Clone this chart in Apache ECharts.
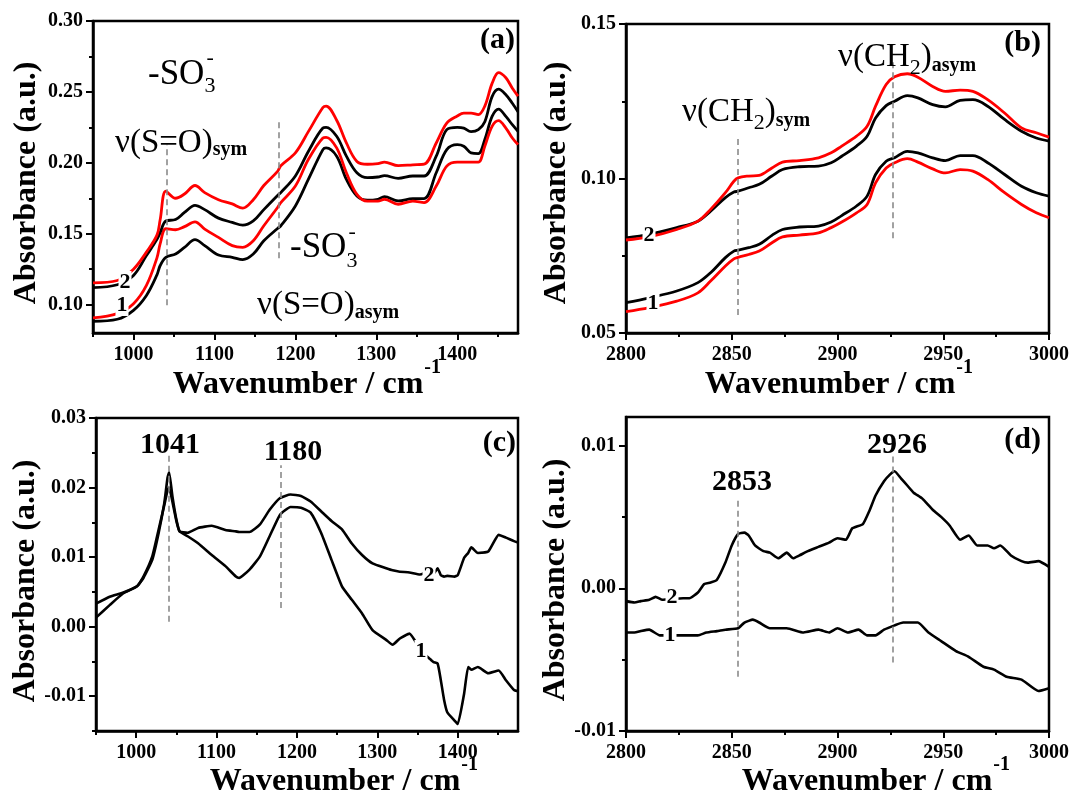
<!DOCTYPE html>
<html>
<head>
<meta charset="utf-8">
<script src="https://cdn.jsdelivr.net/npm/echarts@6/dist/echarts.min.js"></script>
<style>
  html, body { margin: 0; padding: 0; background: #fff; }
  #chart { width: 1073px; height: 797px; }
</style>
</head>
<body>
<div id="chart"></div>
<script>
// ---------- Panel (a): 950-1475 cm-1, samples 1 and 2 (black / red) ----------
const aWave   = [950, 980, 1000, 1016, 1029, 1033, 1040, 1052, 1063, 1076, 1088, 1105, 1122, 1135, 1148, 1161, 1178, 1182, 1200, 1216, 1234, 1238, 1251, 1263, 1276, 1289, 1302, 1310, 1327, 1345, 1359, 1374, 1387, 1400, 1408, 1417, 1426, 1434, 1443, 1451, 1460, 1468, 1475];
const aRed2   = [0.1154, 0.117, 0.125, 0.137, 0.149, 0.160, 0.180, 0.175, 0.178, 0.184, 0.179, 0.174, 0.171, 0.168, 0.174, 0.184, 0.194, 0.198, 0.207, 0.222, 0.239, 0.240, 0.230, 0.214, 0.201, 0.199, 0.1995, 0.2005, 0.198, 0.1986, 0.199, 0.214, 0.228, 0.233, 0.235, 0.235, 0.234, 0.240, 0.256, 0.2636, 0.260, 0.2526, 0.247];
const aBlack2 = [0.112, 0.114, 0.1206, 0.1346, 0.146, 0.151, 0.159, 0.160, 0.165, 0.170, 0.167, 0.161, 0.158, 0.156, 0.159, 0.167, 0.177, 0.179, 0.1907, 0.208, 0.2245, 0.225, 0.2187, 0.2047, 0.193, 0.1895, 0.190, 0.191, 0.189, 0.1907, 0.1907, 0.2047, 0.2234, 0.225, 0.2245, 0.222, 0.2234, 0.229, 0.2467, 0.2519, 0.248, 0.242, 0.236];
const aRed1   = [0.0907, 0.0937, 0.1007, 0.1136, 0.133, 0.143, 0.1535, 0.1528, 0.155, 0.1584, 0.1533, 0.1474, 0.1416, 0.1404, 0.145, 0.1556, 0.1685, 0.172, 0.1836, 0.2023, 0.2175, 0.218, 0.2105, 0.193, 0.1778, 0.173, 0.173, 0.1743, 0.1708, 0.173, 0.172, 0.1836, 0.1977, 0.2005, 0.2005, 0.2005, 0.2005, 0.2117, 0.2257, 0.2297, 0.2245, 0.2175, 0.2128];
const aBlack1 = [0.0883, 0.0897, 0.096, 0.1065, 0.121, 0.1276, 0.1334, 0.1357, 0.1404, 0.1458, 0.1416, 0.135, 0.1334, 0.1318, 0.1357, 0.145, 0.1537, 0.1556, 0.1696, 0.1883, 0.2093, 0.2105, 0.2047, 0.1883, 0.1766, 0.1736, 0.1743, 0.1762, 0.1731, 0.1748, 0.1748, 0.193, 0.2093, 0.2128, 0.2117, 0.207, 0.2065, 0.2164, 0.2327, 0.2379, 0.2327, 0.2269, 0.2222];

// ---------- Panel (b): 2800-3000 cm-1 ----------
const bWave   = [2800, 2811, 2824, 2834, 2840, 2847, 2851, 2853, 2858, 2863, 2869, 2874, 2882, 2891, 2897, 2902, 2909, 2914, 2918, 2923, 2927, 2933, 2938, 2945, 2951, 2958, 2964, 2971, 2979, 2987, 2994, 3000];
const bRed2   = [0.0801, 0.0811, 0.0835, 0.0862, 0.090, 0.0954, 0.0991, 0.1002, 0.1008, 0.101, 0.1034, 0.1053, 0.1058, 0.1067, 0.1083, 0.1105, 0.1137, 0.1169, 0.1234, 0.1304, 0.1329, 0.1339, 0.1328, 0.1298, 0.1282, 0.1286, 0.1282, 0.1255, 0.1212, 0.1164, 0.1148, 0.1134];
const bBlack2 = [0.0808, 0.0819, 0.0841, 0.0862, 0.0894, 0.0938, 0.0956, 0.0959, 0.097, 0.0981, 0.1008, 0.1029, 0.1038, 0.104, 0.1051, 0.1072, 0.1105, 0.1137, 0.1196, 0.1236, 0.125, 0.1268, 0.1261, 0.1239, 0.1232, 0.1253, 0.1255, 0.1234, 0.1191, 0.1153, 0.1131, 0.1121];
const bBlack1 = [0.0598, 0.0614, 0.0636, 0.0663, 0.0695, 0.0744, 0.0765, 0.0768, 0.0776, 0.0787, 0.0816, 0.0835, 0.0843, 0.0846, 0.0859, 0.088, 0.0911, 0.0943, 0.1013, 0.1056, 0.1067, 0.1088, 0.1083, 0.1067, 0.1058, 0.1074, 0.1074, 0.1051, 0.1013, 0.0975, 0.0954, 0.0943];
const bRed1   = [0.0569, 0.0582, 0.0603, 0.063, 0.0668, 0.0717, 0.074, 0.0745, 0.0754, 0.0765, 0.0792, 0.0811, 0.0817, 0.0824, 0.0841, 0.0859, 0.0889, 0.0916, 0.0986, 0.1034, 0.1051, 0.1064, 0.1053, 0.1031, 0.1018, 0.1029, 0.1024, 0.0997, 0.0954, 0.0916, 0.0889, 0.0873];

// ---------- Panel (c): difference spectra, 950-1475 cm-1 ----------
const cWave   = [950, 967, 984, 1001, 1009, 1020, 1028, 1035, 1039, 1041, 1045, 1050, 1054, 1064, 1077, 1094, 1111, 1124, 1128, 1141, 1154, 1166, 1179, 1192, 1205, 1217, 1230, 1243, 1256, 1268, 1281, 1294, 1311, 1319, 1328, 1340, 1353, 1358, 1366, 1370, 1375, 1379, 1383, 1387, 1396, 1400, 1408, 1413, 1417, 1425, 1438, 1451, 1460, 1470, 1475];
const cCurve2 = [0.0033, 0.0043, 0.0049, 0.0058, 0.0072, 0.0101, 0.014, 0.0175, 0.0196, 0.0200, 0.018, 0.0152, 0.0137, 0.0135, 0.0142, 0.0145, 0.0139, 0.0137, 0.0136, 0.0136, 0.0147, 0.0168, 0.0185, 0.019, 0.0188, 0.018, 0.0166, 0.0152, 0.014, 0.012, 0.0103, 0.0091, 0.0084, 0.0081, 0.0079, 0.0078, 0.0075, 0.0077, 0.0082, 0.0076, 0.0084, 0.0074, 0.0072, 0.0073, 0.0072, 0.0074, 0.0099, 0.0106, 0.0114, 0.0106, 0.0108, 0.0132, 0.0128, 0.0123, 0.0121];
const cCurve1 = [0.0013, 0.0031, 0.0048, 0.0058, 0.007, 0.0096, 0.0135, 0.0178, 0.0214, 0.0222, 0.0188, 0.0154, 0.0137, 0.013, 0.012, 0.0103, 0.0087, 0.0072, 0.007, 0.0082, 0.0101, 0.013, 0.0161, 0.0172, 0.0171, 0.0164, 0.0135, 0.0096, 0.0058, 0.0039, 0.0019, -0.0005, -0.0019, -0.0026, -0.0017, -0.001, -0.0032, -0.0039, -0.0047, -0.0051, -0.0053, -0.0077, -0.0105, -0.0123, -0.0135, -0.014, -0.0096, -0.0058, -0.0062, -0.0058, -0.0067, -0.0063, -0.0077, -0.0091, -0.0093];

// ---------- Panel (d): difference spectra, 2800-3000 cm-1 ----------
const dWave2  = [2800, 2804, 2807, 2811, 2814, 2817, 2827, 2830, 2834, 2837, 2840, 2843, 2847, 2850, 2853, 2856, 2858, 2861, 2865, 2868, 2872, 2876, 2879, 2882, 2886, 2891, 2896, 2900, 2904, 2907, 2912, 2915, 2918, 2922, 2925, 2927, 2930, 2933, 2936, 2940, 2945, 2949, 2953, 2958, 2962, 2966, 2971, 2974, 2977, 2982, 2987, 2990, 2995, 3000];
const dCurve2 = [-0.0009, -0.001, -0.0009, -0.0008, -0.0006, -0.0008, -0.0007, -0.0007, -0.0003, 0.0003, 0.0004, 0.0006, 0.0018, 0.003, 0.0038, 0.0039, 0.0037, 0.003, 0.0026, 0.0025, 0.0021, 0.0025, 0.0021, 0.0023, 0.0026, 0.0029, 0.0032, 0.0035, 0.0034, 0.0042, 0.0045, 0.0054, 0.0065, 0.0075, 0.008, 0.0082, 0.0077, 0.0072, 0.0067, 0.0063, 0.0055, 0.005, 0.0044, 0.0034, 0.0037, 0.003, 0.003, 0.0028, 0.003, 0.0023, 0.0019, 0.0018, 0.0019, 0.0015];
const dWave1  = [2800, 2804, 2807, 2811, 2816, 2827, 2834, 2838, 2843, 2847, 2853, 2856, 2860, 2863, 2868, 2876, 2884, 2891, 2896, 2900, 2905, 2910, 2914, 2918, 2922, 2927, 2931, 2938, 2943, 2949, 2956, 2962, 2969, 2974, 2980, 2987, 2995, 3000];
const dCurve1 = [-0.0031, -0.0031, -0.003, -0.0029, -0.0033, -0.0033, -0.0033, -0.0031, -0.003, -0.0029, -0.0028, -0.0024, -0.0022, -0.0024, -0.0028, -0.0028, -0.0031, -0.0029, -0.0031, -0.0028, -0.0031, -0.0029, -0.0033, -0.0033, -0.0029, -0.0026, -0.0024, -0.0024, -0.0031, -0.0037, -0.0044, -0.0048, -0.0055, -0.0057, -0.0062, -0.0064, -0.0072, -0.007];

// Marked band positions (cm-1)
const lowPeaks  = [1041, 1180];
const highPeaks = [2853, 2926];

// Tick values
const lowXMajor  = [1000, 1100, 1200, 1300, 1400];
const lowXMinor  = [950, 1050, 1150, 1250, 1350, 1450];
const highXMajor = [2800, 2850, 2900, 2950, 3000];
const highXMinor = [2825, 2875, 2925, 2975];
const aYMajor = [0.10, 0.15, 0.20, 0.25, 0.30];
const aYMinor = [0.125, 0.175, 0.225, 0.275];
const bYMajor = [0.05, 0.10, 0.15];
const bYMinor = [0.075, 0.125];
const cYMajor = [-0.01, 0.00, 0.01, 0.02, 0.03];
const cYMinor = [-0.015, -0.005, 0.005, 0.015, 0.025];
const dYMajor = [-0.01, 0.00, 0.01];
const dYMinor = [-0.005, 0.005];

const SERIF = '"Liberation Serif", "Times New Roman", serif';
const RED = '#ff0000';
const BLACK = '#000000';

const chart = echarts.init(document.getElementById('chart'), null, { renderer: 'canvas' });

// text measuring, used to chain sub/superscript pieces
const measureCtx = document.createElement('canvas').getContext('2d');
function textWidth(t, size, weight) {
  measureCtx.font = `${weight} ${size}px ${SERIF}`;
  return measureCtx.measureText(t).width;
}

// ----- grids -----
const grids = [
  { left: 93,  top: 21,  width: 425, height: 312 },
  { left: 626, top: 24,  width: 423, height: 309 },
  { left: 96,  top: 418, width: 422, height: 313 },
  { left: 626, top: 417, width: 423, height: 314 }
].map(g => Object.assign({
  show: true, borderColor: BLACK, borderWidth: 2.5, backgroundColor: 'transparent', containLabel: false
}, g));

// each panel gets a labelled major axis and an unlabelled minor-tick axis per direction
function axisPair(dim, gridIndex, min, max, majors, minors, fmt) {
  const pos = dim === 'x' ? 'bottom' : 'left';
  const major = {
    type: 'value', gridIndex, min, max, position: pos,
    axisLine: { show: true, onZero: false, lineStyle: { color: BLACK, width: 2.5 } },
    axisTick: { show: true, inside: false, length: 7, customValues: majors, lineStyle: { color: BLACK, width: 2 } },
    axisLabel: {
      show: true, customValues: majors, formatter: fmt,
      margin: dim === 'x' ? 12 : 10,
      color: BLACK, fontFamily: SERIF, fontWeight: 'bold', fontSize: 20
    },
    splitLine: { show: false }
  };
  const minor = {
    type: 'value', gridIndex, min, max, position: pos,
    axisLine: { show: false, onZero: false },
    axisTick: { show: true, inside: false, length: 4, customValues: minors, lineStyle: { color: BLACK, width: 2 } },
    axisLabel: { show: false },
    splitLine: { show: false }
  };
  return [major, minor];
}

const xFmt = v => String(Math.round(v));
const yFmt = v => v.toFixed(2);

const xAxis = [
  ...axisPair('x', 0, 950, 1475, lowXMajor, lowXMinor, xFmt),
  ...axisPair('x', 1, 2800, 3000, highXMajor, highXMinor, xFmt),
  ...axisPair('x', 2, 950, 1475, lowXMajor, lowXMinor, xFmt),
  ...axisPair('x', 3, 2800, 3000, highXMajor, highXMinor, xFmt)
];
const yAxis = [
  ...axisPair('y', 0, 0.08, 0.30, aYMajor, aYMinor, yFmt),
  ...axisPair('y', 1, 0.05, 0.15, bYMajor, bYMinor, yFmt),
  ...axisPair('y', 2, -0.015, 0.03, cYMajor, cYMinor, yFmt),
  ...axisPair('y', 3, -0.01, 0.012, dYMajor, dYMinor, yFmt)
];

function zip(xs, ys) { return xs.map((x, i) => [x, ys[i]]); }

function guideLines(peaks, spans) {
  return {
    silent: true,
    symbol: ['none', 'none'],
    label: { show: false },
    lineStyle: { type: [6, 4], color: '#8a8a8a', width: 1.6 },
    data: peaks.map((p, i) => [{ coord: [p, spans[i][0]] }, { coord: [p, spans[i][1]] }])
  };
}

function line(panel, data, color, width, smooth, extra) {
  return Object.assign({
    type: 'line',
    xAxisIndex: panel * 2, yAxisIndex: panel * 2,
    data, showSymbol: false, symbol: 'none', smooth,
    lineStyle: { color, width }, itemStyle: { color },
    z: 3, animation: false
  }, extra || {});
}

const series = [
  line(0, zip(aWave, aBlack1), BLACK, 2.8, 0.35, { markLine: guideLines(lowPeaks, [[0.0995, 0.213], [0.1327, 0.2315]]) }),
  line(0, zip(aWave, aRed1), RED, 2.8, 0.35),
  line(0, zip(aWave, aBlack2), BLACK, 2.8, 0.35),
  line(0, zip(aWave, aRed2), RED, 2.8, 0.35),

  line(1, zip(bWave, bBlack2), BLACK, 2.8, 0.35, { markLine: guideLines(highPeaks, [[0.0558, 0.1131], [0.0807, 0.1378]]) }),
  line(1, zip(bWave, bRed2), RED, 2.8, 0.35),
  line(1, zip(bWave, bBlack1), BLACK, 2.8, 0.35),
  line(1, zip(bWave, bRed1), RED, 2.8, 0.35),

  line(2, zip(cWave, cCurve2), BLACK, 2.6, 0.15, { markLine: guideLines(lowPeaks, [[0.0007, 0.025], [0.0027, 0.0232]]) }),
  line(2, zip(cWave, cCurve1), BLACK, 2.6, 0.15),

  line(3, zip(dWave2, dCurve2), BLACK, 2.6, 0.15, { markLine: guideLines(highPeaks, [[-0.0062, 0.0063], [-0.0052, 0.0093]]) }),
  line(3, zip(dWave1, dCurve1), BLACK, 2.6, 0.15)
];

// ----- text -----
const graphic = [];
function addText(x, y, t, size, weight, align, extra) {
  graphic.push(Object.assign({
    type: 'text', x, y, z: 100, silent: true,
    style: {
      text: t, fill: BLACK, align: align || 'left', verticalAlign: 'middle',
      font: `${weight || 'normal'} ${size}px ${SERIF}`
    }
  }, extra || {}));
}
// a run of pieces laid out left to right; a piece with stack:true shares x with the next one
function addRun(x, y, parts) {
  let cx = x;
  parts.forEach(p => {
    addText(cx + (p.dx || 0), y + (p.dy || 0), p.t, p.size, p.weight, 'left');
    if (!p.stack) cx += textWidth(p.t, p.size, p.weight || 'normal');
  });
}
function addCurveTag(x, y, t) {
  graphic.push({
    type: 'text', x, y, z: 100, silent: true,
    style: {
      text: t, fill: BLACK, align: 'center', verticalAlign: 'middle',
      font: `bold 22px ${SERIF}`, backgroundColor: '#fff', padding: [0, 1]
    }
  });
}
function addAxisTitles(cx, cy, yx, yy) {
  const main = 'Wavenumber / cm';
  const w = textWidth(main, 32, 'bold');
  addText(cx, cy, main, 32, 'bold', 'center');
  addText(cx + w / 2 + 1, cy - 17, '-1', 20, 'bold', 'left');
  graphic.push({
    type: 'text', x: yx, y: yy, rotation: Math.PI / 2, z: 100, silent: true,
    style: { text: 'Absorbance (a.u.)', fill: BLACK, align: 'center', verticalAlign: 'middle', font: `bold 32px ${SERIF}` }
  });
}

// panel (a)
addRun(148, 75, [
  { t: '-SO', size: 35 },
  { t: '-', size: 22, dy: -17, stack: true, dx: 2 },
  { t: '3', size: 22, dy: 11 }
]);
addRun(115, 143, [{ t: 'ν(S=O)', size: 33 }, { t: 'sym', size: 20, weight: 'bold', dy: 7 }]);
addRun(290, 248, [
  { t: '-SO', size: 35 },
  { t: '-', size: 22, dy: -16, stack: true, dx: 2 },
  { t: '3', size: 22, dy: 13 }
]);
addRun(257, 305, [{ t: 'ν(S=O)', size: 33 }, { t: 'asym', size: 20, weight: 'bold', dy: 8 }]);
addText(515, 40, '(a)', 30, 'bold', 'right');
addCurveTag(125, 282, '2');
addCurveTag(122, 305, '1');
addAxisTitles(298, 385, 27, 183);

// panel (b)
addRun(682, 112, [
  { t: 'ν(CH', size: 33 }, { t: '2', size: 22, dy: 11 }, { t: ')', size: 33 },
  { t: 'sym', size: 20, weight: 'bold', dy: 9 }
]);
addRun(838, 57, [
  { t: 'ν(CH', size: 33 }, { t: '2', size: 22, dy: 11 }, { t: ')', size: 33 },
  { t: 'asym', size: 20, weight: 'bold', dy: 9 }
]);
addText(1041, 43, '(b)', 30, 'bold', 'right');
addCurveTag(649, 235, '2');
addCurveTag(653, 303, '1');
addAxisTitles(830, 385, 557, 183);

// panel (c)
addText(170, 445, String(lowPeaks[0]), 30, 'bold', 'center');
addText(293, 452, String(lowPeaks[1]), 30, 'bold', 'center');
addText(516, 443, '(c)', 30, 'bold', 'right');
addCurveTag(429, 575, '2');
addCurveTag(421, 651, '1');
addAxisTitles(335, 782, 26, 581);

// panel (d)
addText(742, 482, String(highPeaks[0]), 30, 'bold', 'center');
addText(897, 445, String(highPeaks[1]), 30, 'bold', 'center');
addText(1041, 440, '(d)', 30, 'bold', 'right');
addCurveTag(672, 597, '2');
addCurveTag(670, 635, '1');
addAxisTitles(867, 782, 556, 580);

chart.setOption({
  animation: false,
  backgroundColor: '#ffffff',
  grid: grids,
  xAxis,
  yAxis,
  series,
  graphic: { elements: graphic }
});
</script>
</body>
</html>
